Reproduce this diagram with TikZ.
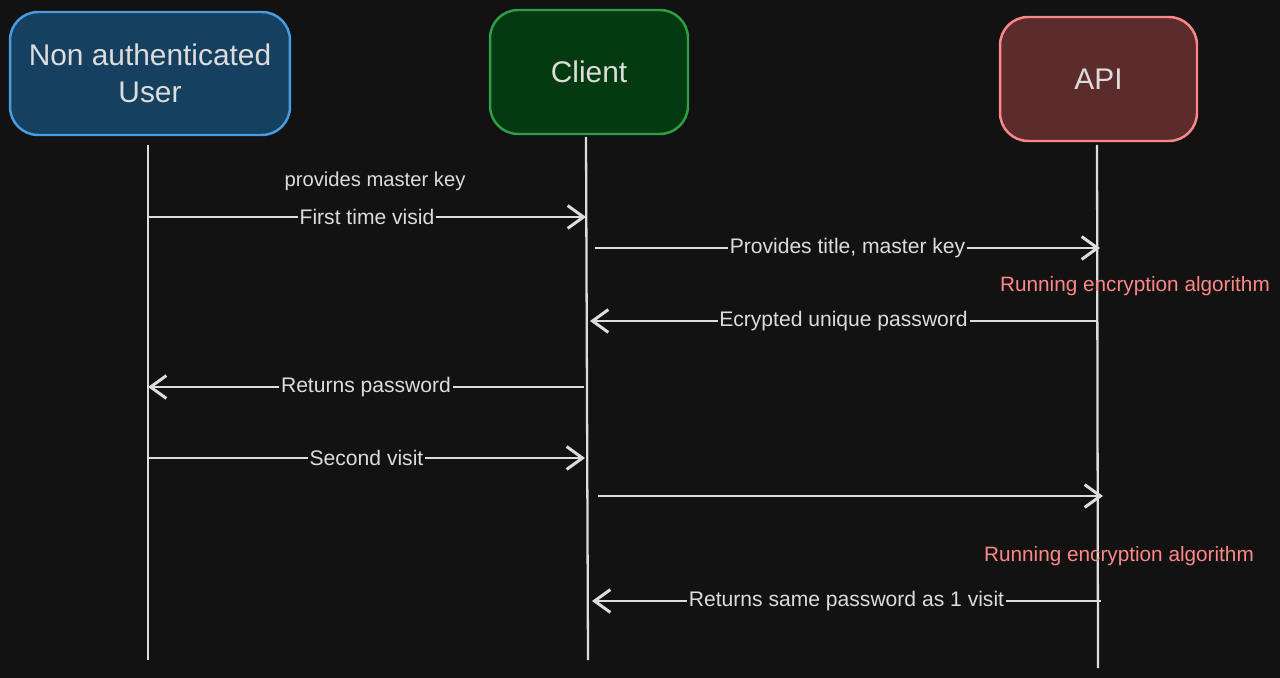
\documentclass[tikz,border=0pt]{standalone}
\usepackage{fontspec}
\setmainfont{Liberation Sans}
\usetikzlibrary{positioning,arrows.meta}
\definecolor{bg}{HTML}{121212}
\definecolor{ink}{HTML}{DCDCDC}
\definecolor{userfill}{HTML}{16405F}
\definecolor{userline}{HTML}{4A9CE0}
\definecolor{clientfill}{HTML}{043A10}
\definecolor{clientline}{HTML}{2F9E44}
\definecolor{apifill}{HTML}{5C2B2C}
\definecolor{apiline}{HTML}{FF8787}

\begin{document}
\begin{tikzpicture}[x=0.02cm,y=-0.02cm]
    \tikzset{
        actor/.style={draw,line width=1.4pt,rounded corners=16pt,align=center,text=ink,font=\fontsize{17}{21}\selectfont},
        life/.style={draw=ink,line width=1.3pt},
        msg/.style={draw=ink,line width=1.7pt,-{Straight Barb[length=9pt,width=13pt]}},
        lbl/.style={fill=bg,text=ink,inner sep=1pt,font=\fontsize{12}{14}\selectfont},
        note/.style={text=apiline,font=\fontsize{11.8}{14}\selectfont},}
    \fill[bg] (0,0) rectangle (1280,678);
    % actors
    \node[actor,fill=userfill,draw=userline,minimum width=5.6cm,minimum height=2.46cm] (user) at (150,73.5) {Non authenticated\\User};
    \node[actor,fill=clientfill,draw=clientline,minimum width=3.96cm,minimum height=2.48cm] (client) at (589,72) {Client};
    \node[actor,fill=apifill,draw=apiline,minimum width=3.94cm,minimum height=2.48cm] (api) at (1098.5,79) {API};
    % lifelines
    \coordinate (ut) at (148,145); \coordinate (ub) at (148,660);
    \coordinate (ct) at (586,137); \coordinate (cb) at (588,660);
    \coordinate (at) at (1097,145); \coordinate (ab) at (1098,668);
    \draw[life] (ut) -- (ub);
    \draw[life] (ct) -- (cb);
    \draw[life] (at) -- (ab);
    % points on lifelines
    \coordinate (u1) at (148,217); \coordinate (c1) at (586,217);
    \coordinate (c2) at (595,248); \coordinate (a2) at (1100,248);
    \coordinate (a3) at (1097,321); \coordinate (c3) at (590,321);
    \coordinate (c4) at (584,387); \coordinate (u4) at (148,387);
    \coordinate (u5) at (148,458); \coordinate (c5) at (585,458);
    \coordinate (c6) at (598,496); \coordinate (a6) at (1103,496);
    \coordinate (a7) at (1101,601); \coordinate (c7) at (592,601);
    % messages
    \node[text=ink,font=\fontsize{11.5}{14}\selectfont] (key) at (375,181) {provides master key};
    \draw[msg] (u1) -- node[lbl] {First time visid} (c1);
    \draw[msg] (c2) -- node[lbl] {Provides title, master key} (a2);
    \node[note] (run1) at (1135,286) {Running encryption algorithm};
    \draw[msg] (a3) -- node[lbl] {Ecrypted unique password} (c3);
    \draw[msg] (c4) -- node[lbl] {Returns password} (u4);
    \draw[msg] (u5) -- node[lbl] {Second visit} (c5);
    \draw[msg] (c6) -- (a6);
    \node[note] (run2) at (1119,556) {Running encryption algorithm};
    \draw[msg] (a7) -- node[lbl] {Returns same password as 1 visit} (c7);
\end{tikzpicture}
\end{document}
